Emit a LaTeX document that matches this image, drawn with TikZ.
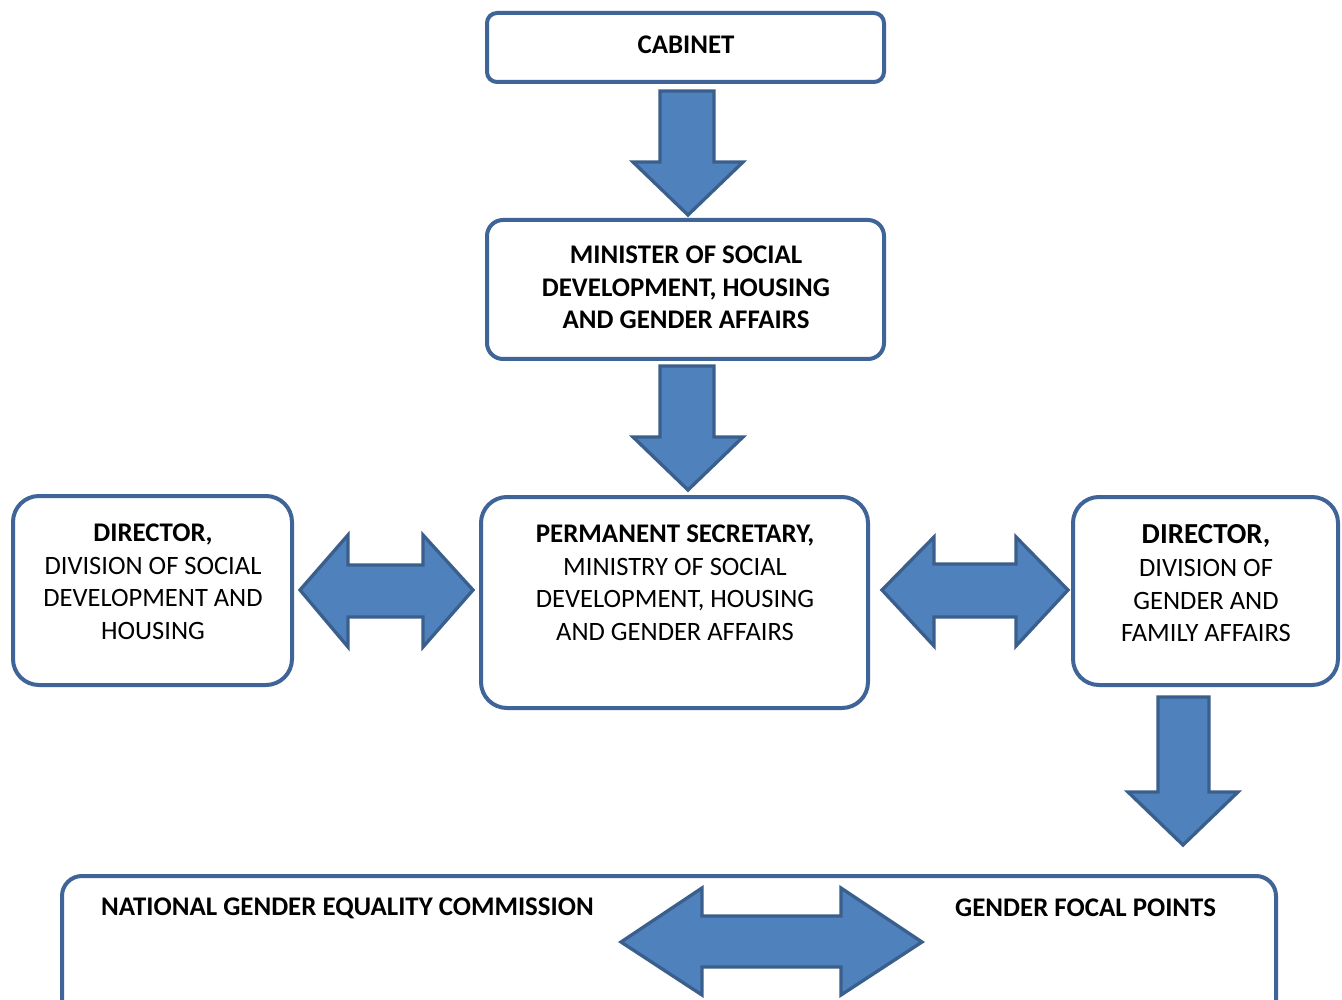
\documentclass[tikz,border=0pt]{standalone}
\usepackage{fontspec}
\setmainfont{Carlito}
\definecolor{boxline}{HTML}{3F6497}
\definecolor{arrfill}{HTML}{4F81BD}
\definecolor{arrline}{HTML}{3A5F8C}
\tikzset{
  orgbox/.style={draw=boxline, line width=4pt, fill=white, rectangle, rounded corners=#1, inner sep=0pt},
  blockarrow/.style={fill=arrfill, draw=arrline, line width=3.3pt, line join=miter},
  txt/.style={font=\fontsize{26.5}{32.7}\selectfont, align=center, inner sep=0pt, anchor=north},
  btxt/.style={font=\fontsize{26.9}{32.7}\selectfont\bfseries, inner sep=0pt}
}
\begin{document}
\begin{tikzpicture}[x=1pt,y=-1pt]
\clip (0,0) rectangle (1342,1000);
\fill[white] (0,0) rectangle (1342,1000);
% boxes
\node[orgbox=10pt, minimum width=397pt, minimum height=69pt] (cab) at (685.5,47.5) {};
\node[orgbox=16pt, minimum width=397pt, minimum height=139pt] (min) at (685.5,289.5) {};
\node[orgbox=26pt, minimum width=387pt, minimum height=211pt] (ps) at (674.5,602.5) {};
\node[orgbox=26pt, minimum width=279pt, minimum height=189pt] (ld) at (152.5,590.5) {};
\node[orgbox=26pt, minimum width=265pt, minimum height=188pt] (rd) at (1205.5,591) {};
\node[orgbox=20pt, minimum width=1214pt, minimum height=180pt] (bot) at (669,966) {};
% texts
\node[btxt] (cabt) at (686,45) {CABINET};
\node[txt, font=\fontsize{26.9}{32.7}\selectfont\bfseries] (mint) at (686,245.5) {MINISTER OF SOCIAL\\DEVELOPMENT, HOUSING\\AND GENDER AFFAIRS};
\node[txt] (pst) at (675,524.5) {{\fontsize{26.9}{32.7}\selectfont\bfseries PERMANENT SECRETARY,}\\MINISTRY OF SOCIAL\\DEVELOPMENT, HOUSING\\AND GENDER AFFAIRS};
\node[txt] (ldt) at (153,523.5) {{\fontsize{26.9}{32.7}\selectfont\bfseries DIRECTOR,}\\DIVISION OF SOCIAL\\DEVELOPMENT AND\\HOUSING};
\node[txt] (rdt) at (1206,524.5) {{\fontsize{29}{33}\selectfont\bfseries DIRECTOR,}\\DIVISION OF\\GENDER AND\\FAMILY AFFAIRS};
\node[btxt, anchor=west] (ngec) at (101,908) {NATIONAL GENDER EQUALITY COMMISSION};
\node[btxt, anchor=west] (gfp) at (955,908) {GENDER FOCAL POINTS};
% block arrows
\draw[blockarrow] (660,91) -- (714,91) -- (714,162) -- (743,162) -- (688,215) -- (633,162) -- (660,162) -- cycle;
\draw[blockarrow] (660,366) -- (714,366) -- (714,437) -- (743,437) -- (688,490) -- (633,437) -- (660,437) -- cycle;
\draw[blockarrow] (1158,697) -- (1209,697) -- (1209,792) -- (1238,792) -- (1183,845) -- (1128,792) -- (1158,792) -- cycle;
\draw[blockarrow] (300,590) -- (348,535) -- (348,565) -- (423,565) -- (423,535) -- (473,590) -- (423,647) -- (423,617) -- (348,617) -- (348,647) -- cycle;
\draw[blockarrow] (882,590) -- (934,537) -- (934,564) -- (1016,564) -- (1016,537) -- (1068,590) -- (1016,646) -- (1016,617) -- (934,617) -- (934,646) -- cycle;
\draw[blockarrow] (621,942) -- (702,888) -- (702,916) -- (841,916) -- (841,888) -- (922,942) -- (841,995) -- (841,967) -- (702,967) -- (702,995) -- cycle;
\end{tikzpicture}
\end{document}
